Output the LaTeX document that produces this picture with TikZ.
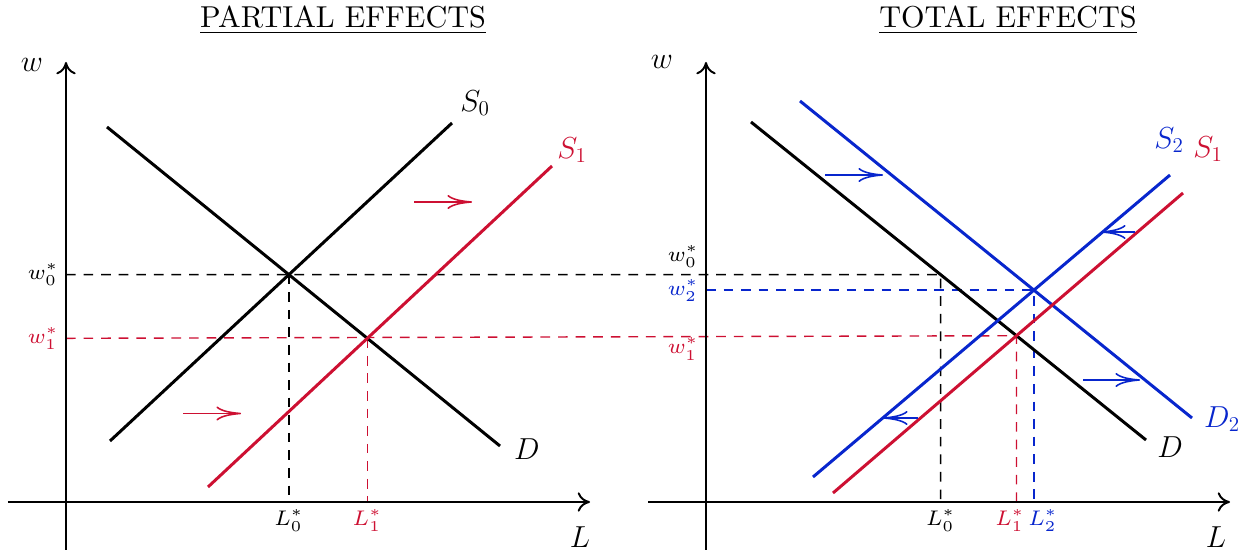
\documentclass[tikz,border=0pt]{standalone}
\usepackage{amsmath,amssymb}
\usetikzlibrary{arrows.meta,calc}
\definecolor{labred}{RGB}{205,16,50}
\definecolor{labblue}{RGB}{8,38,205}
\newcommand{\bigfont}{\fontsize{17}{20}\selectfont}
\newcommand{\paneltitle}[1]{\scalebox{1.72}{\underline{#1}}}
\newcommand{\eqval}[1]{\scalebox{1.72}{$#1$}}

\begin{document}
\begin{tikzpicture}[
  every node/.style={font=\bigfont},
  small/.style={font=\scriptsize,inner sep=4pt},
  axis/.style={line width=1.1pt,-{To[length=7pt,width=11pt]}},
  schedule/.style={line width=1.7pt},
  guide/.style={line width=0.8pt,dash pattern=on 5.5pt off 4.5pt},
  movearrow/.style={line width=0.9pt,-{To[length=14pt,width=8pt]}}]
\useasboundingbox (-1.32,-1.02) rectangle (23.68,10.04);
% left panel
\coordinate (O1) at (0,0);
\coordinate (S0a) at (0.88,1.22);
\coordinate (S0b) at (7.72,7.58);
\coordinate (Da) at (0.82,7.5);
\coordinate (Db) at (8.68,1.12);
\coordinate (S1a) at (2.84,0.3);
\coordinate (S1b) at (9.72,6.72);
\coordinate (E0) at (intersection of S0a--S0b and Da--Db);
\coordinate (E1) at (intersection of S1a--S1b and Da--Db);
% right panel
\coordinate (O2) at (12.8,0);
\coordinate (rDa) at (13.70,7.6);
\coordinate (rDb) at (21.60,1.24);
\coordinate (D2a) at (14.68,8.02);
\coordinate (D2b) at (22.52,1.68);
\coordinate (rS1a) at (15.34,0.18);
\coordinate (rS1b) at (22.34,6.18);
\coordinate (S2a) at (14.94,0.5);
\coordinate (S2b) at (22.08,6.54);
\coordinate (Far) at ($(E0)+(20,0)$);
\coordinate (A) at (intersection of E0--Far and rDa--rDb);
\coordinate (E1r) at (intersection of rS1a--rS1b and rDa--rDb);
\coordinate (E2) at (intersection of S2a--S2b and D2a--D2b);

% dashed guides
\draw[guide] (O1 |- E0) -- (A) -- (A |- O1);
\draw[guide] (E0) -- (E0 |- O1);
\draw[guide,labred] (O1 |- E1) -- (E1r) -- (E1r |- O1);
\draw[guide,labred] (E1) -- (E1 |- O1);
\draw[guide,labblue] (O2 |- E2) -- (E2) -- (E2 |- O2);

% axes
\draw[axis] (0,-0.96) -- (0,8.8);
\draw[axis] (-1.16,0) -- (10.48,0);
\draw[axis] (12.8,-0.96) -- (12.8,8.8);
\draw[axis] (11.64,0) -- (23.28,0);
\node (wl) at (-0.68,8.74) {$w$};
\node (Ll) at (10.28,-0.7) {$L$};
\node (wr) at (11.92,8.8) {$w$};
\node (Lr) at (23.0,-0.7) {$L$};

% schedules
\draw[schedule] (S0a) -- (S0b);
\draw[schedule] (Da) -- (Db);
\draw[schedule,labred] (S1a) -- (S1b);
\draw[schedule] (rDa) -- (rDb);
\draw[schedule,labblue] (D2a) -- (D2b);
\draw[schedule,labred] (rS1a) -- (rS1b);
\draw[schedule,labblue] (S2a) -- (S2b);
\node (S0lab) at (8.18,7.98) {$S_0$};
\node[labred] (S1lab) at (10.12,7.04) {$S_1$};
\node (Dlab) at (9.22,1.06) {$D$};
\node (rDlab) at (22.08,1.1) {$D$};
\node[labblue] (D2lab) at (23.12,1.66) {$D_2$};
\node[labred] (rS1lab) at (22.84,7.06) {$S_1$};
\node[labblue] (S2lab) at (22.06,7.24) {$S_2$};

% equilibrium values
\node[small,left] (w0l) at (O1 |- E0) {\eqval{w_0^*}};
\node[small,left,labred] (w1l) at (O1 |- E1) {\eqval{w_1^*}};
\node[small,below] (L0l) at (E0 |- O1) {\eqval{L_0^*}};
\node[small,below,labred] (L1l) at (E1 |- O1) {\eqval{L_1^*}};
\node[small,above left] (w0r) at (O2 |- A) {\eqval{w_0^*}};
\node[small,left,labblue] (w2r) at (O2 |- E2) {\eqval{w_2^*}};
\node[small,below left,labred,yshift=3pt] (w1r) at (O2 |- E1r) {\eqval{w_1^*}};
\node[small,below] (L0r) at (A |- O1) {\eqval{L_0^*}};
\node[small,below,labred,xshift=-0.13cm] (L1r) at (E1r |- O1) {\eqval{L_1^*}};
\node[small,below,labblue,xshift=0.18cm] (L2r) at (E2 |- O2) {\eqval{L_2^*}};

% shifts
\draw[movearrow,labred] (6.96,6.0) -- (8.12,6.0);
\draw[movearrow,labred] (2.34,1.77) -- (3.5,1.77);
\draw[movearrow,labblue] (15.18,6.54) -- (16.34,6.54);
\draw[movearrow,labblue] (20.34,2.44) -- (21.48,2.44);
\draw[movearrow,labblue] (21.38,5.4) -- (20.7,5.4);
\draw[movearrow,labblue] (17.04,1.68) -- (16.34,1.68);

% titles
\node[font=\normalsize] (tleft) at (5.54,9.64) {\paneltitle{PARTIAL EFFECTS}};
\node[font=\normalsize] (tright) at (18.84,9.64) {\paneltitle{TOTAL EFFECTS}};
\end{tikzpicture}
\end{document}
